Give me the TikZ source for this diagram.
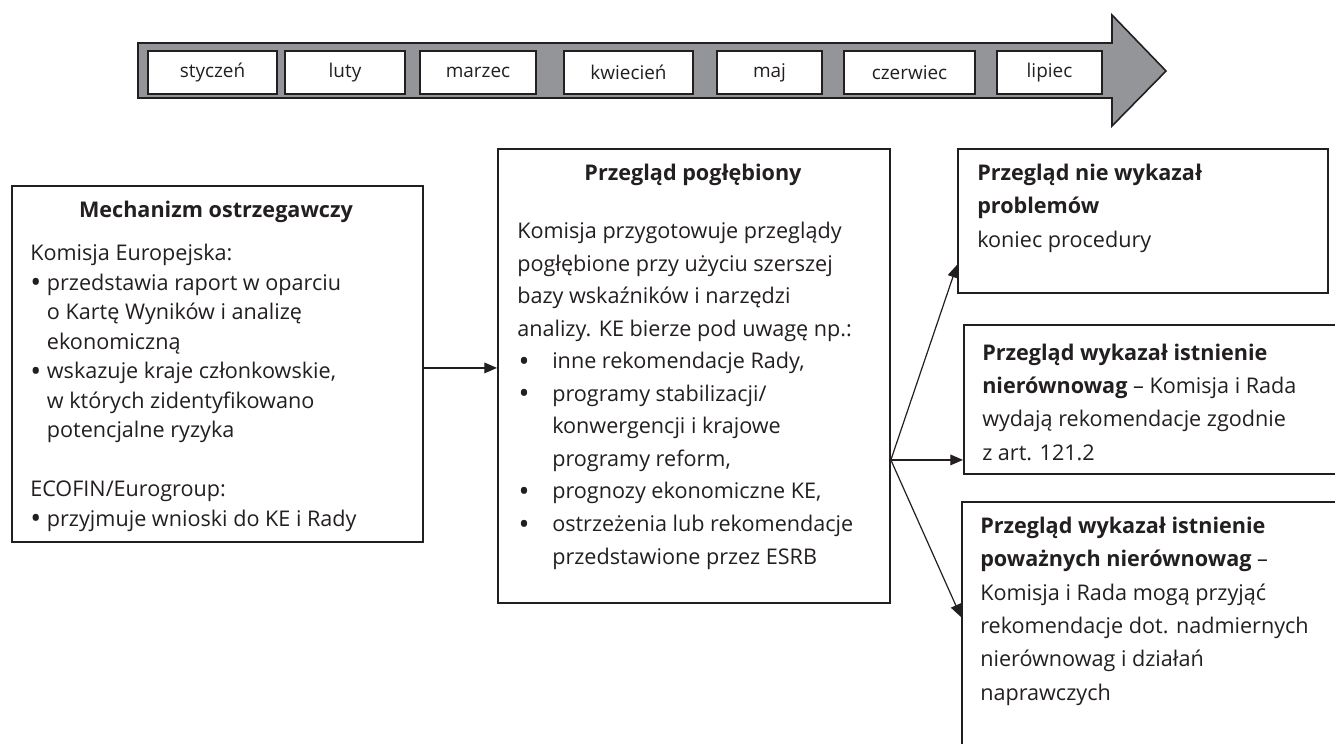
\documentclass[tikz,border=0pt]{standalone}
\usepackage{fontspec}
\usepackage{graphicx}
\setmainfont{Open Sans}
\usetikzlibrary{arrows.meta}
\definecolor{ink}{RGB}{35,31,32}
\definecolor{band}{RGB}{147,149,152}
\newcommand{\bigdot}{\raisebox{-0.12em}{\scalebox{1.35}{\textbullet}}}
\newcommand{\bul}[1]{\makebox[#1][l]{\bigdot}}
\begin{document}
\begin{tikzpicture}[x=0.75pt,y=-0.75pt,
  box/.style={draw=ink, line width=1.4pt, inner sep=0pt, anchor=north west},
  month/.style={draw=ink, line width=1pt, fill=white, inner sep=0pt, minimum height=32.25pt, font=\fontsize{14.2}{16}\selectfont, text=ink},
  title/.style={inner sep=0pt, anchor=base, text=ink, font=\fontsize{16.2}{19}\selectfont\bfseries},
  bodyl/.style={anchor=base west, inner sep=0pt, align=left, text=ink, font=\fontsize{16.2}{22.1}\selectfont},
  bodym/.style={anchor=base west, inner sep=0pt, align=left, text=ink, font=\fontsize{16.2}{24.4}\selectfont},
  bodyr/.style={anchor=base west, inner sep=0pt, align=left, text=ink, font=\fontsize{16.2}{25}\selectfont},
  arr/.style={draw=ink, line width=0.9pt, -{Triangle[length=9.5pt,width=8pt]}}
]
\path[use as bounding box, clip] (0,0) rectangle (1335,743);
\fill[white] (0,0) rectangle (1335,743);

% timeline band
\draw[ink, fill=band, line width=1.2pt, line join=miter]
  (138,43) -- (1112,43) -- (1112,15) -- (1166,71) -- (1112,126) -- (1112,98) -- (138,98) -- cycle;
\node[month, minimum width=96.75pt] (m1) at (212.5,72.5) {styczeń};
\node[month, minimum width=90pt]    (m2) at (345,72.5) {luty};
\node[month, minimum width=87pt]    (m3) at (478,72.5) {marzec};
\node[month, minimum width=96.75pt] (m4) at (628.5,72.5) {kwiecień};
\node[month, minimum width=78.75pt] (m5) at (769.5,72.5) {maj};
\node[month, minimum width=98.25pt] (m6) at (909.5,72.5) {czerwiec};
\node[month, minimum width=78.75pt] (m7) at (1049.5,72.5) {lipiec};

% boxes
\node[box, minimum width=308.25pt, minimum height=267pt] (left) at (11,185) {};
\node[box, minimum width=294pt, minimum height=340.5pt] (mid) at (497,148) {};
\node[box, minimum width=277.5pt, minimum height=108pt] (r1) at (957,148) {};
\node[box, minimum width=292.5pt, minimum height=111.75pt] (r2) at (963,324) {};
\node[box, minimum width=292.5pt, minimum height=195pt] (r3) at (961,501) {};

% left text
\node[title] (lt) at (216,217) {Mechanizm ostrzegawczy};
\node[bodyl] (lb) at (30,526) {Komisja Europejska:\\
\bul{12.5pt}przedstawia raport w oparciu\\
\hspace*{12.5pt}o Kartę Wyników i analizę\\
\hspace*{12.5pt}ekonomiczną\\
\bul{12.5pt}wskazuje kraje członkowskie,\\
\hspace*{12.5pt}w których zidentyfikowano\\
\hspace*{12.5pt}potencjalne ryzyka\\[22.1pt]
ECOFIN/Eurogroup:\\
\bul{12.5pt}przyjmuje wnioski do KE i Rady};

% middle text
\node[title] (mt) at (693,180) {Przegląd pogłębiony};
\node[bodym] (mb) at (517,564) {Komisja przygotowuje przeglądy\\
pogłębione przy użyciu szerszej\\
bazy wskaźników i narzędzi\\
analizy. KE bierze pod uwagę np.:\\
\hspace*{1pt}\bul{25.25pt}inne rekomendacje Rady,\\
\hspace*{1pt}\bul{25.25pt}programy stabilizacji/\\
\hspace*{26.25pt}konwergencji i krajowe\\
\hspace*{26.25pt}programy reform,\\
\hspace*{1pt}\bul{25.25pt}prognozy ekonomiczne KE,\\
\hspace*{1pt}\bul{25.25pt}ostrzeżenia lub rekomendacje\\
\hspace*{26.25pt}przedstawione przez ESRB};

% right texts
\node[bodyr] (r1t) at (977,247) {\textbf{Przegląd nie wykazał}\\
\textbf{problemów}\\
koniec procedury};
\node[bodyr] (r2t) at (982,460) {\textbf{Przegląd wykazał istnienie}\\
\textbf{nierównowag} – Komisja i Rada\\
wydają rekomendacje zgodnie\\
z art. 121.2};
\node[bodyr] (r3t) at (980,700) {\textbf{Przegląd wykazał istnienie}\\
\textbf{poważnych nierównowag} –\\
Komisja i Rada mogą przyjąć\\
rekomendacje dot. nadmiernych\\
nierównowag i działań\\
naprawczych};

% connectors
\draw[arr] ([yshift=-3pt]left.east) -- ([yshift=-3pt]left.east -| mid.west);
\coordinate (fork) at ([yshift=-63pt]mid.east);
\draw[arr] (fork) -- ([yshift=21.75pt]r1.south west);
\draw[arr] (fork) -- (fork -| r2.west);
\draw[arr] (fork) -- ([yshift=-87pt]r3.north west);
\end{tikzpicture}
\end{document}
